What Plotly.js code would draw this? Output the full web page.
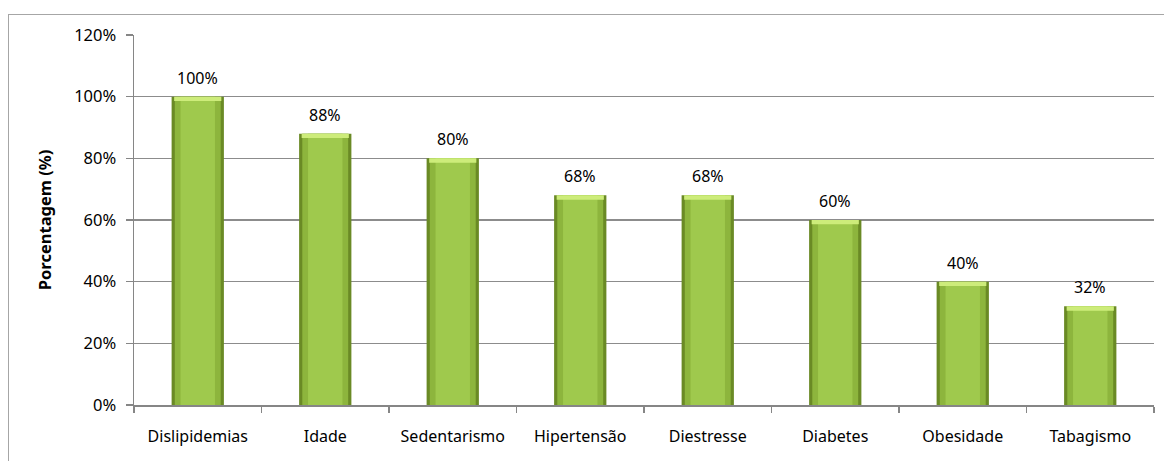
<!DOCTYPE html>
<html>
<head>
<meta charset="utf-8">
<script src="https://cdn.plot.ly/plotly-3.0.1.min.js"></script>
<style>
html,body{margin:0;padding:0;background:#fff;}
#frame{position:absolute;left:8px;top:14px;width:1170px;height:470px;border-top:1px solid #a6a6a6;border-left:1px solid #a6a6a6;}
#chart{position:absolute;left:0;top:0;width:1164px;height:461px;}
</style>
</head>
<body>
<div id="frame"></div>
<div id="chart"></div>
<script>
const categories = ["Dislipidemias","Idade","Sedentarismo","Hipertensão","Diestresse","Diabetes","Obesidade","Tabagismo"];
const values = [1.00, 0.88, 0.80, 0.68, 0.68, 0.60, 0.40, 0.32];
const labels = ["100%","88%","80%","68%","68%","60%","40%","32%"];
const yTicks = [0,0.2,0.4,0.6,0.8,1.0,1.2];
const yTickText = ["0%","20%","40%","60%","80%","100%","120%"];

const FAM = "Noto Sans, Open Sans, sans-serif";
const font = {family:FAM, size:16, color:"#000"};

const traces = [
  {type:"bar", x:categories, y:values, width:0.41, marker:{color:"#6a8a25", line:{width:0}}, hoverinfo:"skip", showlegend:false},
  {type:"bar", x:categories, y:values, width:0.36, marker:{color:"#8db53d", line:{width:0}}, hoverinfo:"skip", showlegend:false},
  {type:"bar", x:categories, y:values, width:0.27, marker:{color:"#9fc94d", line:{width:0}}, hoverinfo:"skip", showlegend:false},
  {type:"bar", x:categories, y:values.map(()=>0.014), base:values.map(v=>v-0.014), width:0.37, marker:{color:"#cdec7a", line:{width:0}}, hoverinfo:"skip", showlegend:false}
];

const annotations = categories.map((c,i)=>({
  x:c, y:values[i], xref:"x", yref:"y", text:labels[i], showarrow:false,
  yanchor:"bottom", yshift:6, font:font
}));

const layout = {
  width:1164, height:461,
  margin:{l:134, r:10, t:35, b:56},
  paper_bgcolor:"rgba(0,0,0,0)", plot_bgcolor:"rgba(0,0,0,0)",
  barmode:"overlay",
  font:font,
  showlegend:false,
  annotations:annotations,
  xaxis:{
    type:"category", showgrid:false, showline:true, linecolor:"#868686", linewidth:1.5,
    ticks:"outside", tickson:"boundaries", ticklen:6, tickcolor:"#868686", tickwidth:1.5,
    ticklabelstandoff:16, tickfont:font, zeroline:false
  },
  yaxis:{
    range:[0,1.2], tickvals:yTicks, ticktext:yTickText, showgrid:true, gridcolor:"#8c8c8c", gridwidth:1.2,
    showline:true, linecolor:"#868686", linewidth:1.5, ticks:"outside", ticklen:7, tickcolor:"#868686", tickwidth:1.5,
    ticklabelstandoff:6, tickfont:{family:FAM, size:16.5, color:"#000"}, zeroline:false,
    title:{text:"<b>Porcentagem (%)</b>", font:{family:FAM, size:16.5, color:"#000"}, standoff:18}
  }
};

Plotly.newPlot("chart", traces, layout, {displayModeBar:false, staticPlot:true});
</script>
</body>
</html>
